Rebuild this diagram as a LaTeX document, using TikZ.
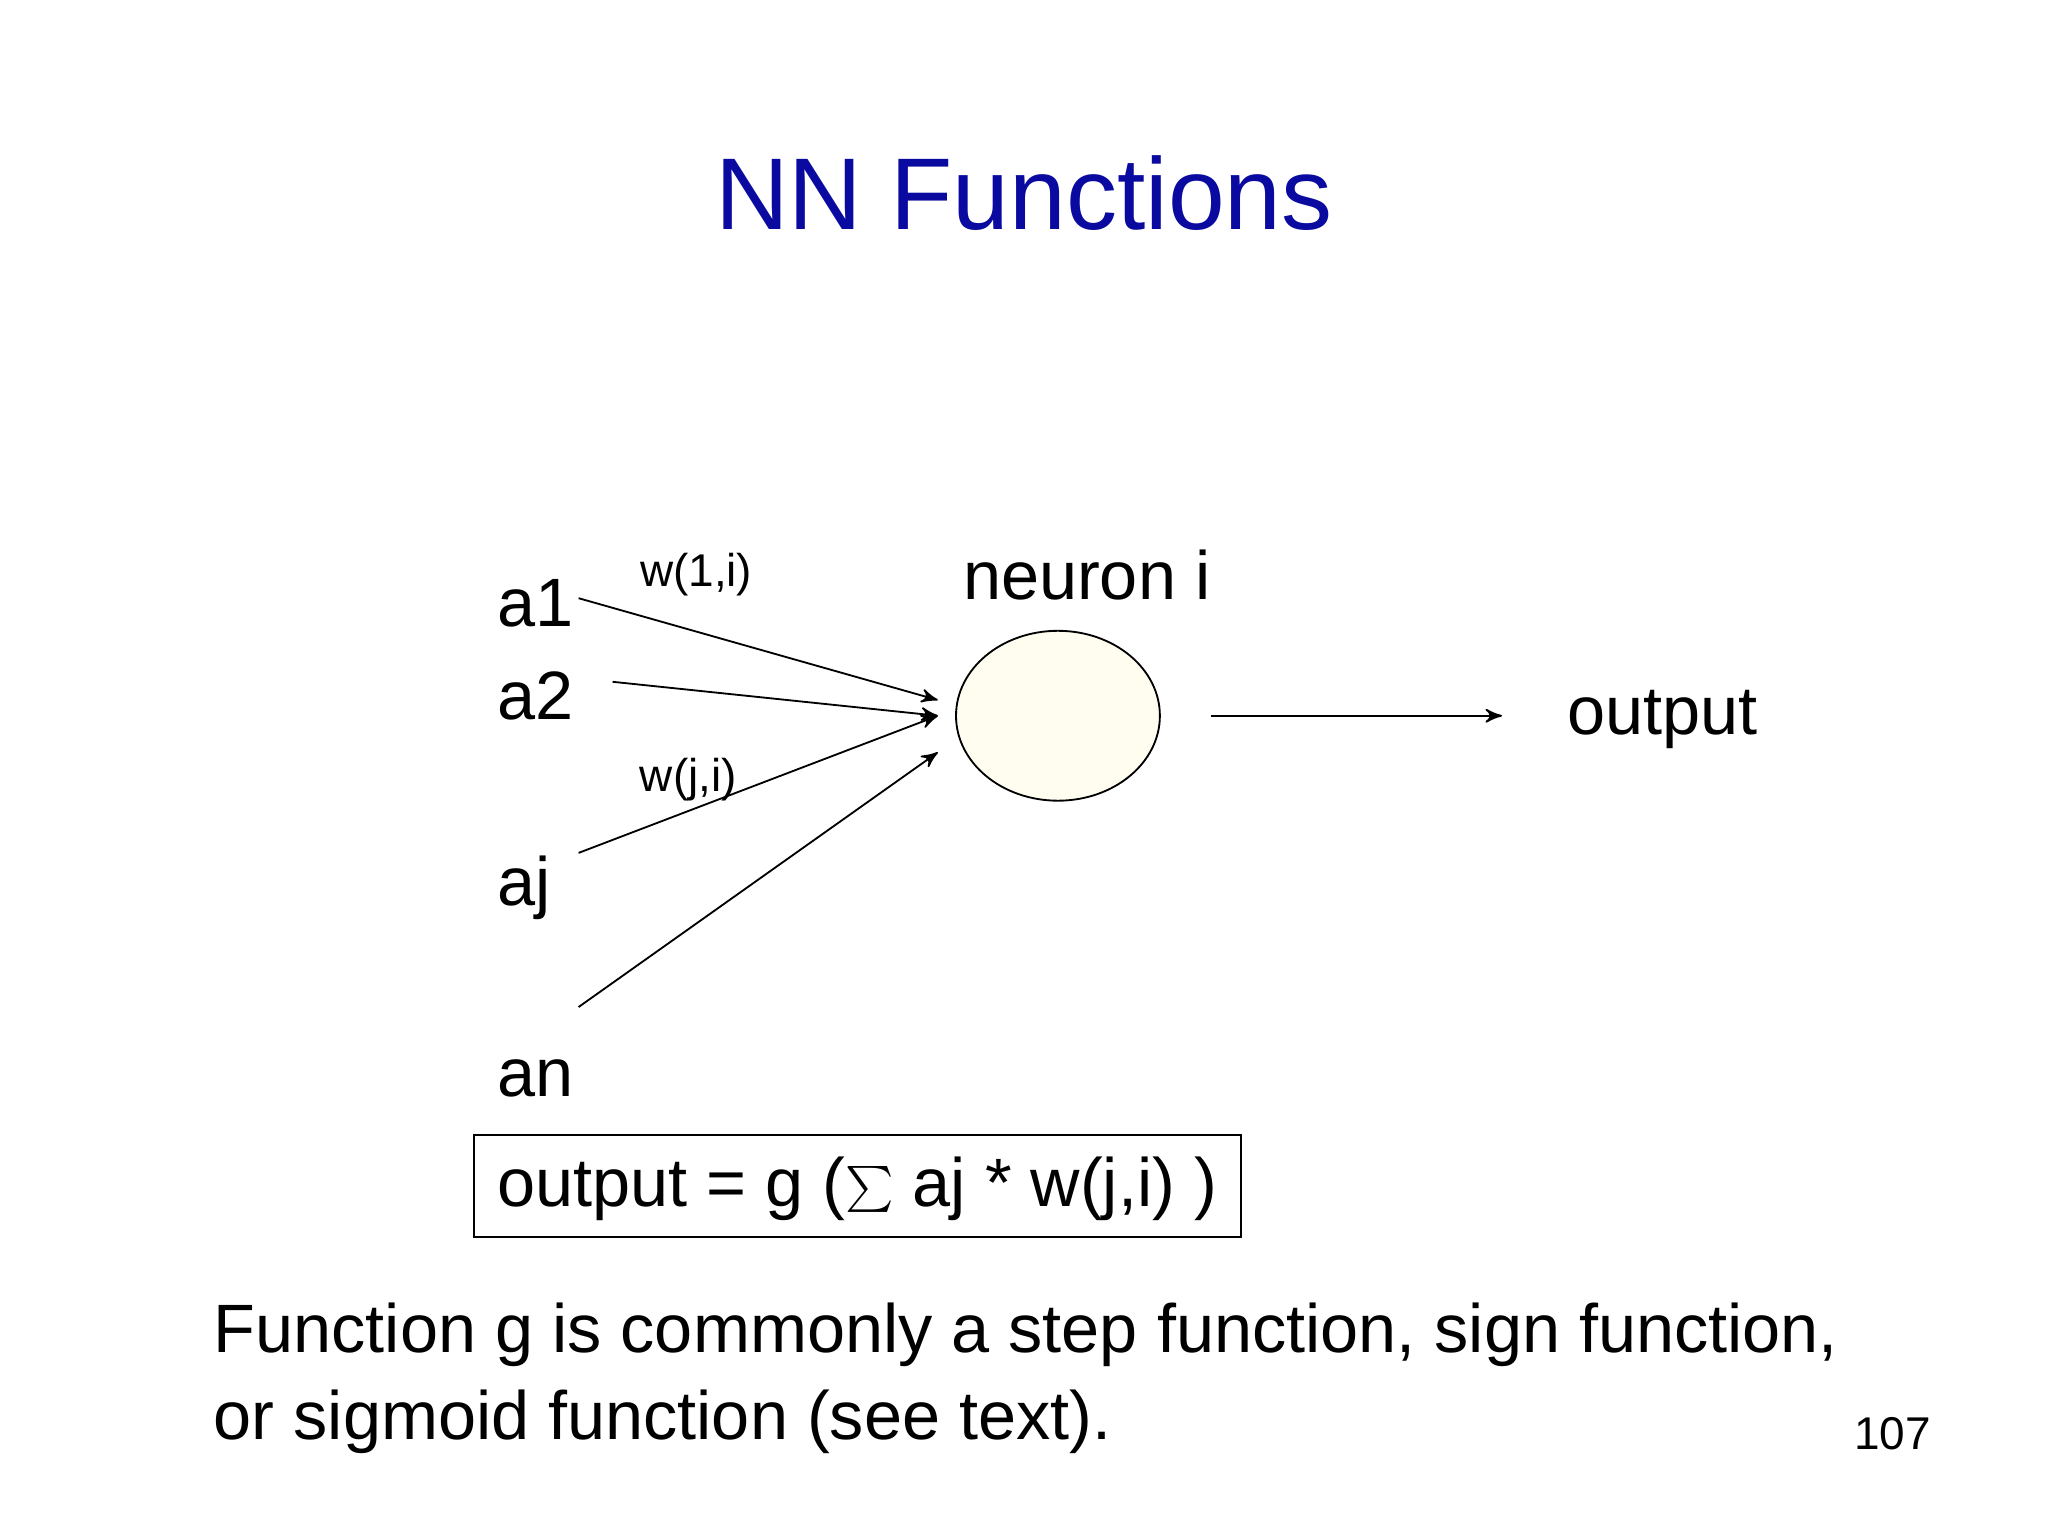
\documentclass[tikz,border=0pt]{standalone}
\usepackage{fontspec}
\setmainfont{Liberation Sans}
\usetikzlibrary{arrows,shapes.geometric}
\definecolor{titleblue}{RGB}{10,10,160}
\definecolor{cream}{RGB}{255,253,240}
\tikzset{
  big/.style = {font=\fontsize{14.9}{18}\selectfont, inner sep=0pt},
  small/.style = {font=\fontsize{10}{12}\selectfont, inner sep=0pt},
  wire/.style = {->, >=stealth', thin}
}
\begin{document}
\begin{tikzpicture}[x=0.01cm,y=-0.01cm]
  \useasboundingbox (0,0) rectangle (1568,1176);
  \node [font=\fontsize{22.2}{27}\selectfont, titleblue] (title) at (784,148) {NN Functions};
  % inputs
  \node [big, anchor=west] (a1) at (380,462) {a1};
  \node [big, anchor=west] (a2) at (380,533) {a2};
  \node [big, anchor=west] (aj) at (380,680) {aj};
  \node [big, anchor=west] (an) at (380,826) {an};
  \node [small] (w1) at (533,440) {w(1,i)};
  \node [small] (wj) at (527,597) {w(j,i)};
  % neuron
  \node [big] (nlabel) at (832,440) {neuron i};
  \node [ellipse, draw, fill=cream, inner sep=0pt,
         minimum width=1.56cm, minimum height=1.3cm] (neuron) at (810,548) {};
  \node [big] (out) at (1273,551) {output};
  \coordinate (s1) at (443,458);
  \coordinate (s2) at (469,522);
  \coordinate (sj) at (443,653);
  \coordinate (sn) at (443,771);
  \coordinate (t1) at (718,536);
  \coordinate (t2) at (718,548);
  \coordinate (tn) at (718,576);
  \coordinate (o1) at (927,548);
  \coordinate (o2) at (1150,548);
  \draw [wire] (s1) -- (t1);
  \draw [wire] (s2) -- (t2);
  \draw [wire] (sj) -- (t2);
  \draw [wire] (sn) -- (tn);
  \draw [wire] (o1) -- (o2);
  % formula
  \draw (363,869) rectangle (950,947);
  \node [big, anchor=west] (formula) at (380,910) {output = g ($\sum$ aj * w(j,i) )};
  \node [big, anchor=north west, align=left] (note) at (163,997)
    {Function g is commonly a step function, sign function,\\[1pt] or sigmoid function (see text).};
  \node [small] (page) at (1449,1098) {107};
\end{tikzpicture}
\end{document}
